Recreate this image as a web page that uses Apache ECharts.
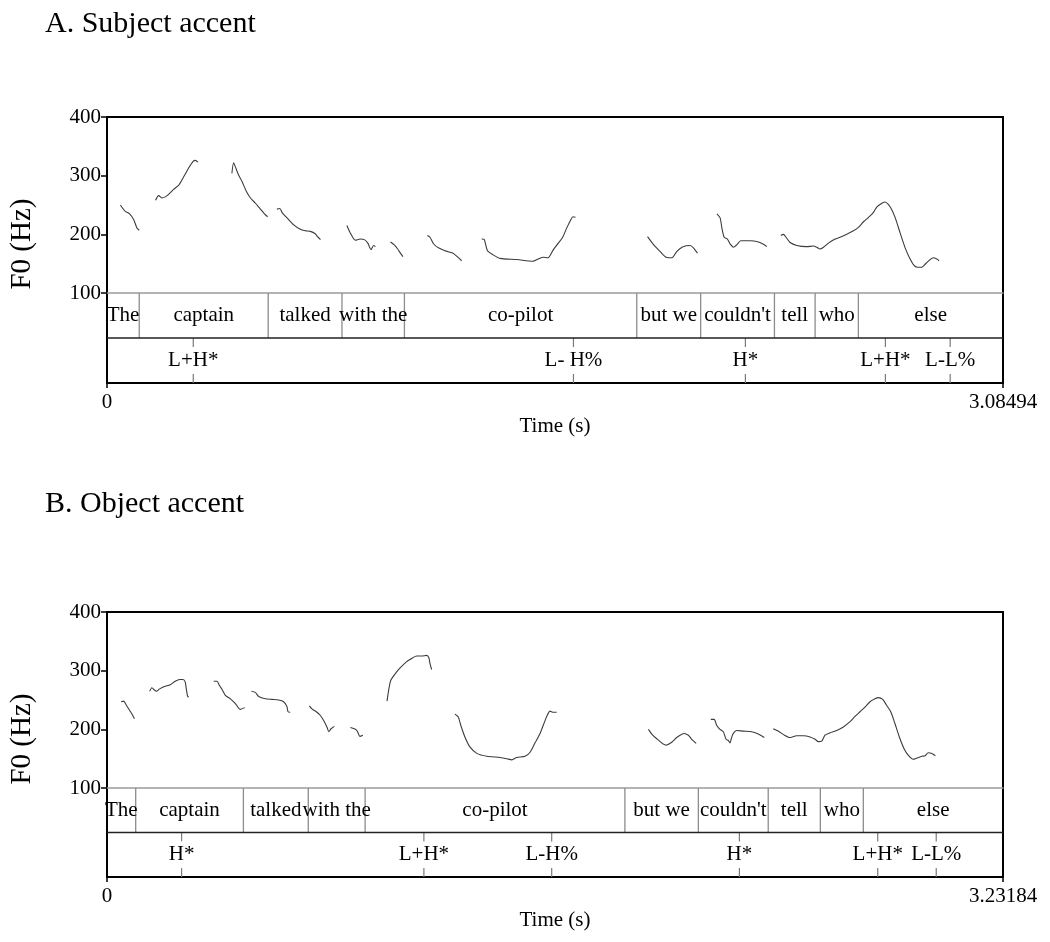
<!DOCTYPE html>
<html><head><meta charset="utf-8">
<script src="https://cdn.jsdelivr.net/npm/echarts@6/dist/echarts.min.js"></script>
<style>html,body{margin:0;padding:0;background:#fff}#c{width:1050px;height:942px}</style>
</head><body><div id="c"></div>
<script>
// ---------- Panel A: Subject accent ----------
const durA = 3.08494;
const aS1 = [[0.046,250],[0.063,239],[0.078,235],[0.092,225],[0.103,211],[0.111,207]];
const aS2 = [[0.167,258],[0.178,266],[0.189,262],[0.207,266],[0.230,277],[0.247,284],[0.264,298],[0.281,313],[0.296,324],[0.304,326],[0.313,323]];
const aS3 = [[0.430,304],[0.436,322],[0.442,315],[0.453,301],[0.465,290],[0.480,273],[0.494,262],[0.511,253],[0.528,243],[0.542,235],[0.553,230]];
const aS4 = [[0.585,243],[0.595,244],[0.603,237],[0.620,228],[0.643,216],[0.664,209],[0.683,206],[0.700,205],[0.717,201],[0.725,196],[0.735,191]];
const aS5 = [[0.826,215],[0.838,202],[0.855,190],[0.872,192],[0.886,191],[0.898,185],[0.909,174],[0.918,181],[0.924,179]];
const aS6 = [[0.976,187],[0.989,182],[1.001,175],[1.010,168],[1.019,162]];
const aS7 = [[1.103,198],[1.112,195],[1.124,184],[1.141,177],[1.164,172],[1.190,168],[1.206,162],[1.221,155]];
const aS8 = [[1.290,192],[1.299,191],[1.310,172],[1.330,165],[1.353,159],[1.411,157],[1.466,154],[1.485,158],[1.502,161],[1.518,160],[1.537,174],[1.554,185],[1.569,195],[1.583,211],[1.597,225],[1.604,230],[1.613,229]];
const aS9 = [[1.861,196],[1.881,183],[1.904,171],[1.925,161],[1.945,160],[1.962,171],[1.983,179],[2.008,181],[2.019,177],[2.033,168]];
const aS10 = [[2.100,235],[2.111,228],[2.117,211],[2.125,195],[2.136,192],[2.145,184],[2.157,178],[2.168,182],[2.182,189],[2.214,189],[2.243,187],[2.260,183],[2.272,179]];
const aS11 = [[2.320,198],[2.329,200],[2.338,195],[2.352,186],[2.375,181],[2.409,179],[2.432,180],[2.444,178],[2.455,175],[2.467,178],[2.484,185],[2.507,192],[2.524,195],[2.547,200],[2.570,206],[2.587,212],[2.604,221],[2.622,229],[2.637,236],[2.651,247],[2.668,253],[2.679,255],[2.690,251],[2.702,242],[2.714,228],[2.731,202],[2.748,177],[2.763,160],[2.777,148],[2.790,144],[2.805,144],[2.817,149],[2.834,157],[2.845,160],[2.857,158],[2.865,155]];
const pitchA = [aS1,aS2,aS3,aS4,aS5,aS6,aS7,aS8,aS9,aS10,aS11];
const wordBoundsA = [0.111, 0.555, 0.809, 1.024, 1.824, 2.044, 2.298, 2.438, 2.587];
const wordsA = ['The','captain','talked','with the','co-pilot','but we',"couldn't",'tell','who','else'];
const toneTimesA = [0.297, 1.606, 2.198, 2.680, 2.903];
const toneLabelsA = ['L+H*','L- H%','H*','L+H*','L-L%'];

// ---------- Panel B: Object accent ----------
const durB = 3.23184;
const bS1 = [[0.051,247],[0.060,248],[0.070,241],[0.082,232],[0.090,226],[0.099,218]];
const bS2 = [[0.154,265],[0.162,271],[0.171,267],[0.178,265],[0.190,269],[0.207,273],[0.228,276],[0.246,282],[0.262,285],[0.274,285],[0.282,281],[0.286,269],[0.291,256],[0.295,255]];
const bS3 = [[0.385,282],[0.397,282],[0.405,275],[0.415,268],[0.427,258],[0.445,252],[0.463,244],[0.481,234],[0.497,237]];
const bS4 = [[0.521,265],[0.535,263],[0.547,256],[0.571,252],[0.595,251],[0.619,250],[0.637,247],[0.649,239],[0.653,230],[0.661,229]];
const bS5 = [[0.730,240],[0.739,235],[0.755,230],[0.769,224],[0.784,213],[0.794,203],[0.800,196],[0.808,201],[0.820,205]];
const bS6 = [[0.878,203],[0.896,200],[0.904,196],[0.912,188],[0.923,190]];
const bS7 = [[1.010,248],[1.016,267],[1.024,284],[1.040,295],[1.058,305],[1.080,315],[1.093,319],[1.117,325],[1.135,325],[1.153,326],[1.161,322],[1.165,312],[1.171,302]];
const bS8 = [[1.255,226],[1.267,221],[1.276,207],[1.291,187],[1.309,170],[1.334,159],[1.370,154],[1.418,152],[1.442,150],[1.460,148],[1.478,152],[1.508,154],[1.526,161],[1.544,177],[1.562,193],[1.576,210],[1.588,224],[1.598,231],[1.610,229],[1.622,229]];
const bS9 = [[1.953,200],[1.965,192],[1.983,184],[2.016,173],[2.037,178],[2.055,186],[2.081,193],[2.097,190],[2.109,183],[2.125,176]];
const bS10 = [[2.178,217],[2.190,217],[2.199,207],[2.211,200],[2.223,196],[2.233,183],[2.241,181],[2.247,177],[2.253,186],[2.259,193],[2.271,198],[2.295,197],[2.325,196],[2.349,192],[2.371,186]];
const bS11 = [[2.403,201],[2.421,197],[2.440,191],[2.461,186],[2.488,189],[2.512,189],[2.536,187],[2.554,183],[2.566,179],[2.578,180],[2.590,190],[2.608,194],[2.632,198],[2.656,204],[2.680,213],[2.698,222],[2.716,230],[2.734,238],[2.752,247],[2.770,252],[2.782,254],[2.798,251],[2.812,241],[2.827,230],[2.842,210],[2.858,187],[2.875,167],[2.890,156],[2.908,149],[2.921,151],[2.939,154],[2.951,155],[2.962,160],[2.975,159],[2.988,155]];
const pitchB = [bS1,bS2,bS3,bS4,bS5,bS6,bS7,bS8,bS9,bS10,bS11];
const wordBoundsB = [0.1035, 0.492, 0.726, 0.931, 1.868, 2.133, 2.385, 2.573, 2.728];
const wordsB = ['The','captain','talked','with the','co-pilot','but we',"couldn't",'tell','who','else'];
const toneTimesB = [0.269, 1.143, 1.604, 2.281, 2.780, 2.991];
const toneLabelsB = ['H*','L+H*','L-H%','H*','L+H*','L-L%'];

const yTicks = [100, 200, 300, 400];

// ---------- build ----------
const FONT = '"Liberation Serif", "Times New Roman", serif';
const grids = [], xAxes = [], yAxes = [], series = [];

function panel(p) {
  const g0 = grids.length;
  grids.push({left:107, width:896, top:p.top, height:p.ph});
  grids.push({left:107, width:896, top:p.top + p.ph, height:p.th});
  const x0 = xAxes.length, y0 = yAxes.length;
  const noAx = {axisTick:{show:false}, axisLabel:{show:false}, splitLine:{show:false}};
  xAxes.push(Object.assign({gridIndex:g0, type:'value', min:0, max:p.T, position:'bottom',
    axisLine:{show:true, onZero:false, lineStyle:{color:'#9a9a9a', width:1.5}}}, noAx));
  xAxes.push(Object.assign({gridIndex:g0, type:'value', min:0, max:p.T, position:'top',
    axisLine:{show:true, onZero:false, lineStyle:{color:'#000', width:2}}}, noAx));
  xAxes.push({gridIndex:g0+1, type:'value', min:0, max:p.T, interval:p.T, position:'bottom',
    axisLine:{show:true, onZero:false, lineStyle:{color:'#000', width:2}},
    axisTick:{show:true, length:5, lineStyle:{color:'#000', width:1.5}},
    axisLabel:{show:true, margin:9, color:'#000', fontFamily:FONT, fontSize:21, showMinLabel:true, showMaxLabel:true,
      formatter: v => String(v)},
    splitLine:{show:false},
    name:'Time (s)', nameLocation:'middle', nameGap:33,
    nameTextStyle:{color:'#000', fontFamily:FONT, fontSize:21}});
  yAxes.push({gridIndex:g0, type:'value', min:yTicks[0], max:yTicks[yTicks.length-1], interval:100, position:'left',
    axisLine:{show:true, onZero:false, lineStyle:{color:'#000', width:2}},
    axisTick:{show:true, length:6, lineStyle:{color:'#000', width:1.5}},
    axisLabel:{show:true, margin:6, color:'#000', fontFamily:FONT, fontSize:21},
    splitLine:{show:false}});
  yAxes.push(Object.assign({gridIndex:g0, type:'value', min:100, max:400, position:'right',
    axisLine:{show:true, onZero:false, lineStyle:{color:'#000', width:2}}}, noAx));
  yAxes.push(Object.assign({gridIndex:g0+1, type:'value', min:0, max:2, position:'left',
    axisLine:{show:true, onZero:false, lineStyle:{color:'#000', width:2}}}, noAx));
  yAxes.push(Object.assign({gridIndex:g0+1, type:'value', min:0, max:2, position:'right',
    axisLine:{show:true, onZero:false, lineStyle:{color:'#000', width:2}}}, noAx));

  // pitch contours
  p.pitch.forEach(seg => {
    series.push({type:'line', xAxisIndex:x0, yAxisIndex:y0, data:seg, showSymbol:false, symbol:'none',
      smooth:0.25, lineStyle:{color:'#3c3c3c', width:1.1}, silent:true, z:3});
  });

  const tx = x0 + 2, ty = y0 + 2;
  // tier separator
  series.push({type:'custom', xAxisIndex:tx, yAxisIndex:ty, data:[[0,1,p.T]], silent:true, z:4,
    renderItem:(params, api) => {
      const a = api.coord([api.value(0), 1]), b = api.coord([api.value(2), 1]);
      return {type:'line', shape:{x1:a[0], y1:a[1], x2:b[0], y2:b[1]}, style:{stroke:'#222', lineWidth:1.6}};
    }});
  // word boundaries
  series.push({type:'custom', xAxisIndex:tx, yAxisIndex:ty, data:p.bounds.map(t => [t, 1.5]), silent:true, z:3,
    renderItem:(params, api) => {
      const t = api.value(0);
      const a = api.coord([t, 1]), b = api.coord([t, 2]);
      return {type:'line', shape:{x1:a[0], y1:a[1], x2:b[0], y2:b[1]}, style:{stroke:'#8c8c8c', lineWidth:1.3}};
    }});
  // word labels
  const edges = [0].concat(p.bounds, [p.T]);
  const wordData = p.words.map((w, i) => [(edges[i] + edges[i+1]) / 2, 1.5, w]);
  series.push({type:'custom', xAxisIndex:tx, yAxisIndex:ty, data:wordData, silent:true, z:5,
    renderItem:(params, api) => {
      const c = api.coord([api.value(0), api.value(1)]);
      return {type:'text', x:c[0], y:c[1], style:{text:wordData[params.dataIndex][2], align:'center', verticalAlign:'middle',
        fontFamily:FONT, fontSize:21, fill:'#000'}};
    }});
  // tone point ticks
  series.push({type:'custom', xAxisIndex:tx, yAxisIndex:ty, data:p.toneT.map(t => [t, 0.5]), silent:true, z:3,
    renderItem:(params, api) => {
      const t = api.value(0);
      const a1 = api.coord([t, 1]), a2 = api.coord([t, 0.8]);
      const b1 = api.coord([t, 0.2]), b2 = api.coord([t, 0]);
      const st = {stroke:'#7a7a7a', lineWidth:1.2};
      return {type:'group', children:[
        {type:'line', shape:{x1:a1[0], y1:a1[1], x2:a2[0], y2:a2[1]}, style:st},
        {type:'line', shape:{x1:b1[0], y1:b1[1], x2:b2[0], y2:b2[1]}, style:st}]};
    }});
  // tone labels
  const toneData = p.toneT.map((t, i) => [t, 0.5, p.toneL[i]]);
  series.push({type:'custom', xAxisIndex:tx, yAxisIndex:ty, data:toneData, silent:true, z:5,
    renderItem:(params, api) => {
      const c = api.coord([api.value(0), api.value(1)]);
      return {type:'text', x:c[0], y:c[1], style:{text:toneData[params.dataIndex][2], align:'center', verticalAlign:'middle',
        fontFamily:FONT, fontSize:21, fill:'#000'}};
    }});
}

panel({top:117, ph:176, th:90, T:durA, pitch:pitchA, bounds:wordBoundsA, words:wordsA, toneT:toneTimesA, toneL:toneLabelsA});
panel({top:612, ph:176, th:89, T:durB, pitch:pitchB, bounds:wordBoundsB, words:wordsB, toneT:toneTimesB, toneL:toneLabelsB});

const chart = echarts.init(document.getElementById('c'), null, {renderer:'canvas'});
chart.setOption({
  animation:false,
  backgroundColor:'#fff',
  title:[
    {text:'A. Subject accent', left:40, top:4, textStyle:{fontFamily:FONT, fontSize:30, fontWeight:'normal', color:'#000'}},
    {text:'B. Object accent', left:40, top:484, textStyle:{fontFamily:FONT, fontSize:30, fontWeight:'normal', color:'#000'}}
  ],
  graphic:[
    {type:'text', x:22, y:244, rotation:Math.PI/2, style:{text:'F0 (Hz)', fontFamily:FONT, fontSize:29, fill:'#000', align:'center', verticalAlign:'middle'}},
    {type:'text', x:22, y:739, rotation:Math.PI/2, style:{text:'F0 (Hz)', fontFamily:FONT, fontSize:29, fill:'#000', align:'center', verticalAlign:'middle'}}
  ],
  grid:grids, xAxis:xAxes, yAxis:yAxes, series:series
});
</script></body></html>
